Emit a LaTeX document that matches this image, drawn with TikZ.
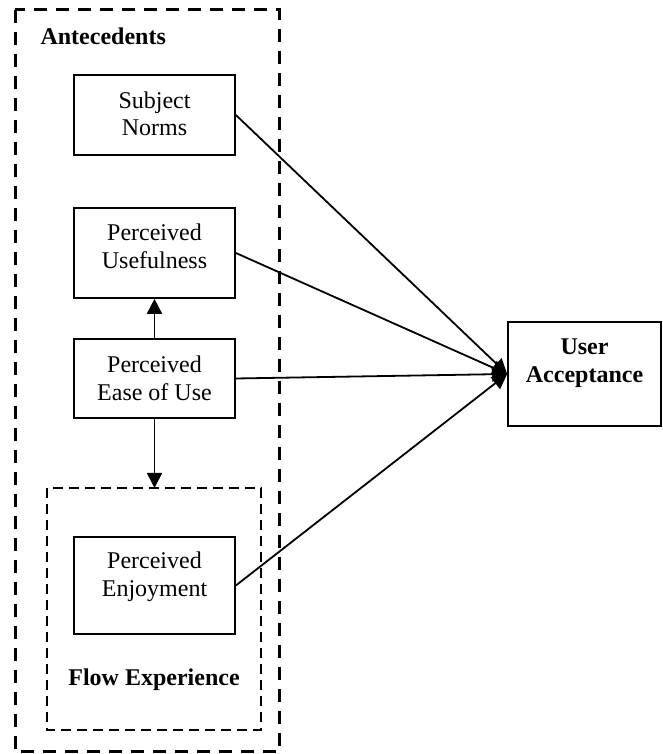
\documentclass[tikz,border=0pt]{standalone}
\usepackage{fontspec}
\setmainfont{Liberation Serif}
\usetikzlibrary{arrows.meta}
\begin{document}
\begin{tikzpicture}[x=1pt,y=1pt,
  box/.style={draw,line width=1.7pt,inner sep=0pt},
  txt/.style={align=center,font=\fontsize{24}{27.5}\selectfont},
  btxt/.style={align=center,font=\fontsize{24}{28}\selectfont\bfseries},
  conn/.style={line width=1.8pt,-{Triangle[length=15pt,width=15pt]}},
  outerdash/.style={line width=3pt,dash pattern=on 13pt off 9pt},
  innerdash/.style={line width=2.4pt,dash pattern=on 10pt off 6pt}]
\useasboundingbox (0,0) rectangle (662,754);
% groups
\draw[outerdash] (15,744) rectangle (279,2);
\draw[innerdash] (47,266) rectangle (261,24);
\node[btxt,anchor=base west] (antlab) at (37,709) {Antecedents};
\node[btxt,anchor=base] (flowlab) at (154,68) {Flow Experience};
% boxes
\node[box,minimum width=161pt,minimum height=80pt] (sn) at (154.5,639) {};
\node[box,minimum width=161pt,minimum height=90pt] (pu) at (154.5,501) {};
\node[box,minimum width=161pt,minimum height=79pt] (peou) at (154.5,375.5) {};
\node[box,minimum width=161pt,minimum height=97pt] (pe) at (154.5,168.5) {};
\node[box,minimum width=153pt,minimum height=104pt] (ua) at (584.5,380) {};
\coordinate (flowtop) at (154.5,266);
% texts
\node[txt] (snt) at (154.5,640) {Subject\\Norms};
\node[txt] (put) at (154.5,507.5) {Perceived\\Usefulness};
\node[txt] (peout) at (154.5,375.5) {Perceived\\Ease of Use};
\node[txt] (pet) at (154.5,177) {Perceived\\Enjoyment};
\node[btxt] (uat) at (584.5,391) {User\\Acceptance};
% connectors
\draw[conn] (peou.north) -- (pu.south);
\draw[conn] (peou.south) -- (flowtop);
\draw[conn] (sn.east) -- (ua.west);
\draw[conn] (pu.east) -- (ua.west);
\draw[conn] (peou.east) -- (ua.west);
\draw[conn] (pe.east) -- (ua.west);
\end{tikzpicture}
\end{document}
